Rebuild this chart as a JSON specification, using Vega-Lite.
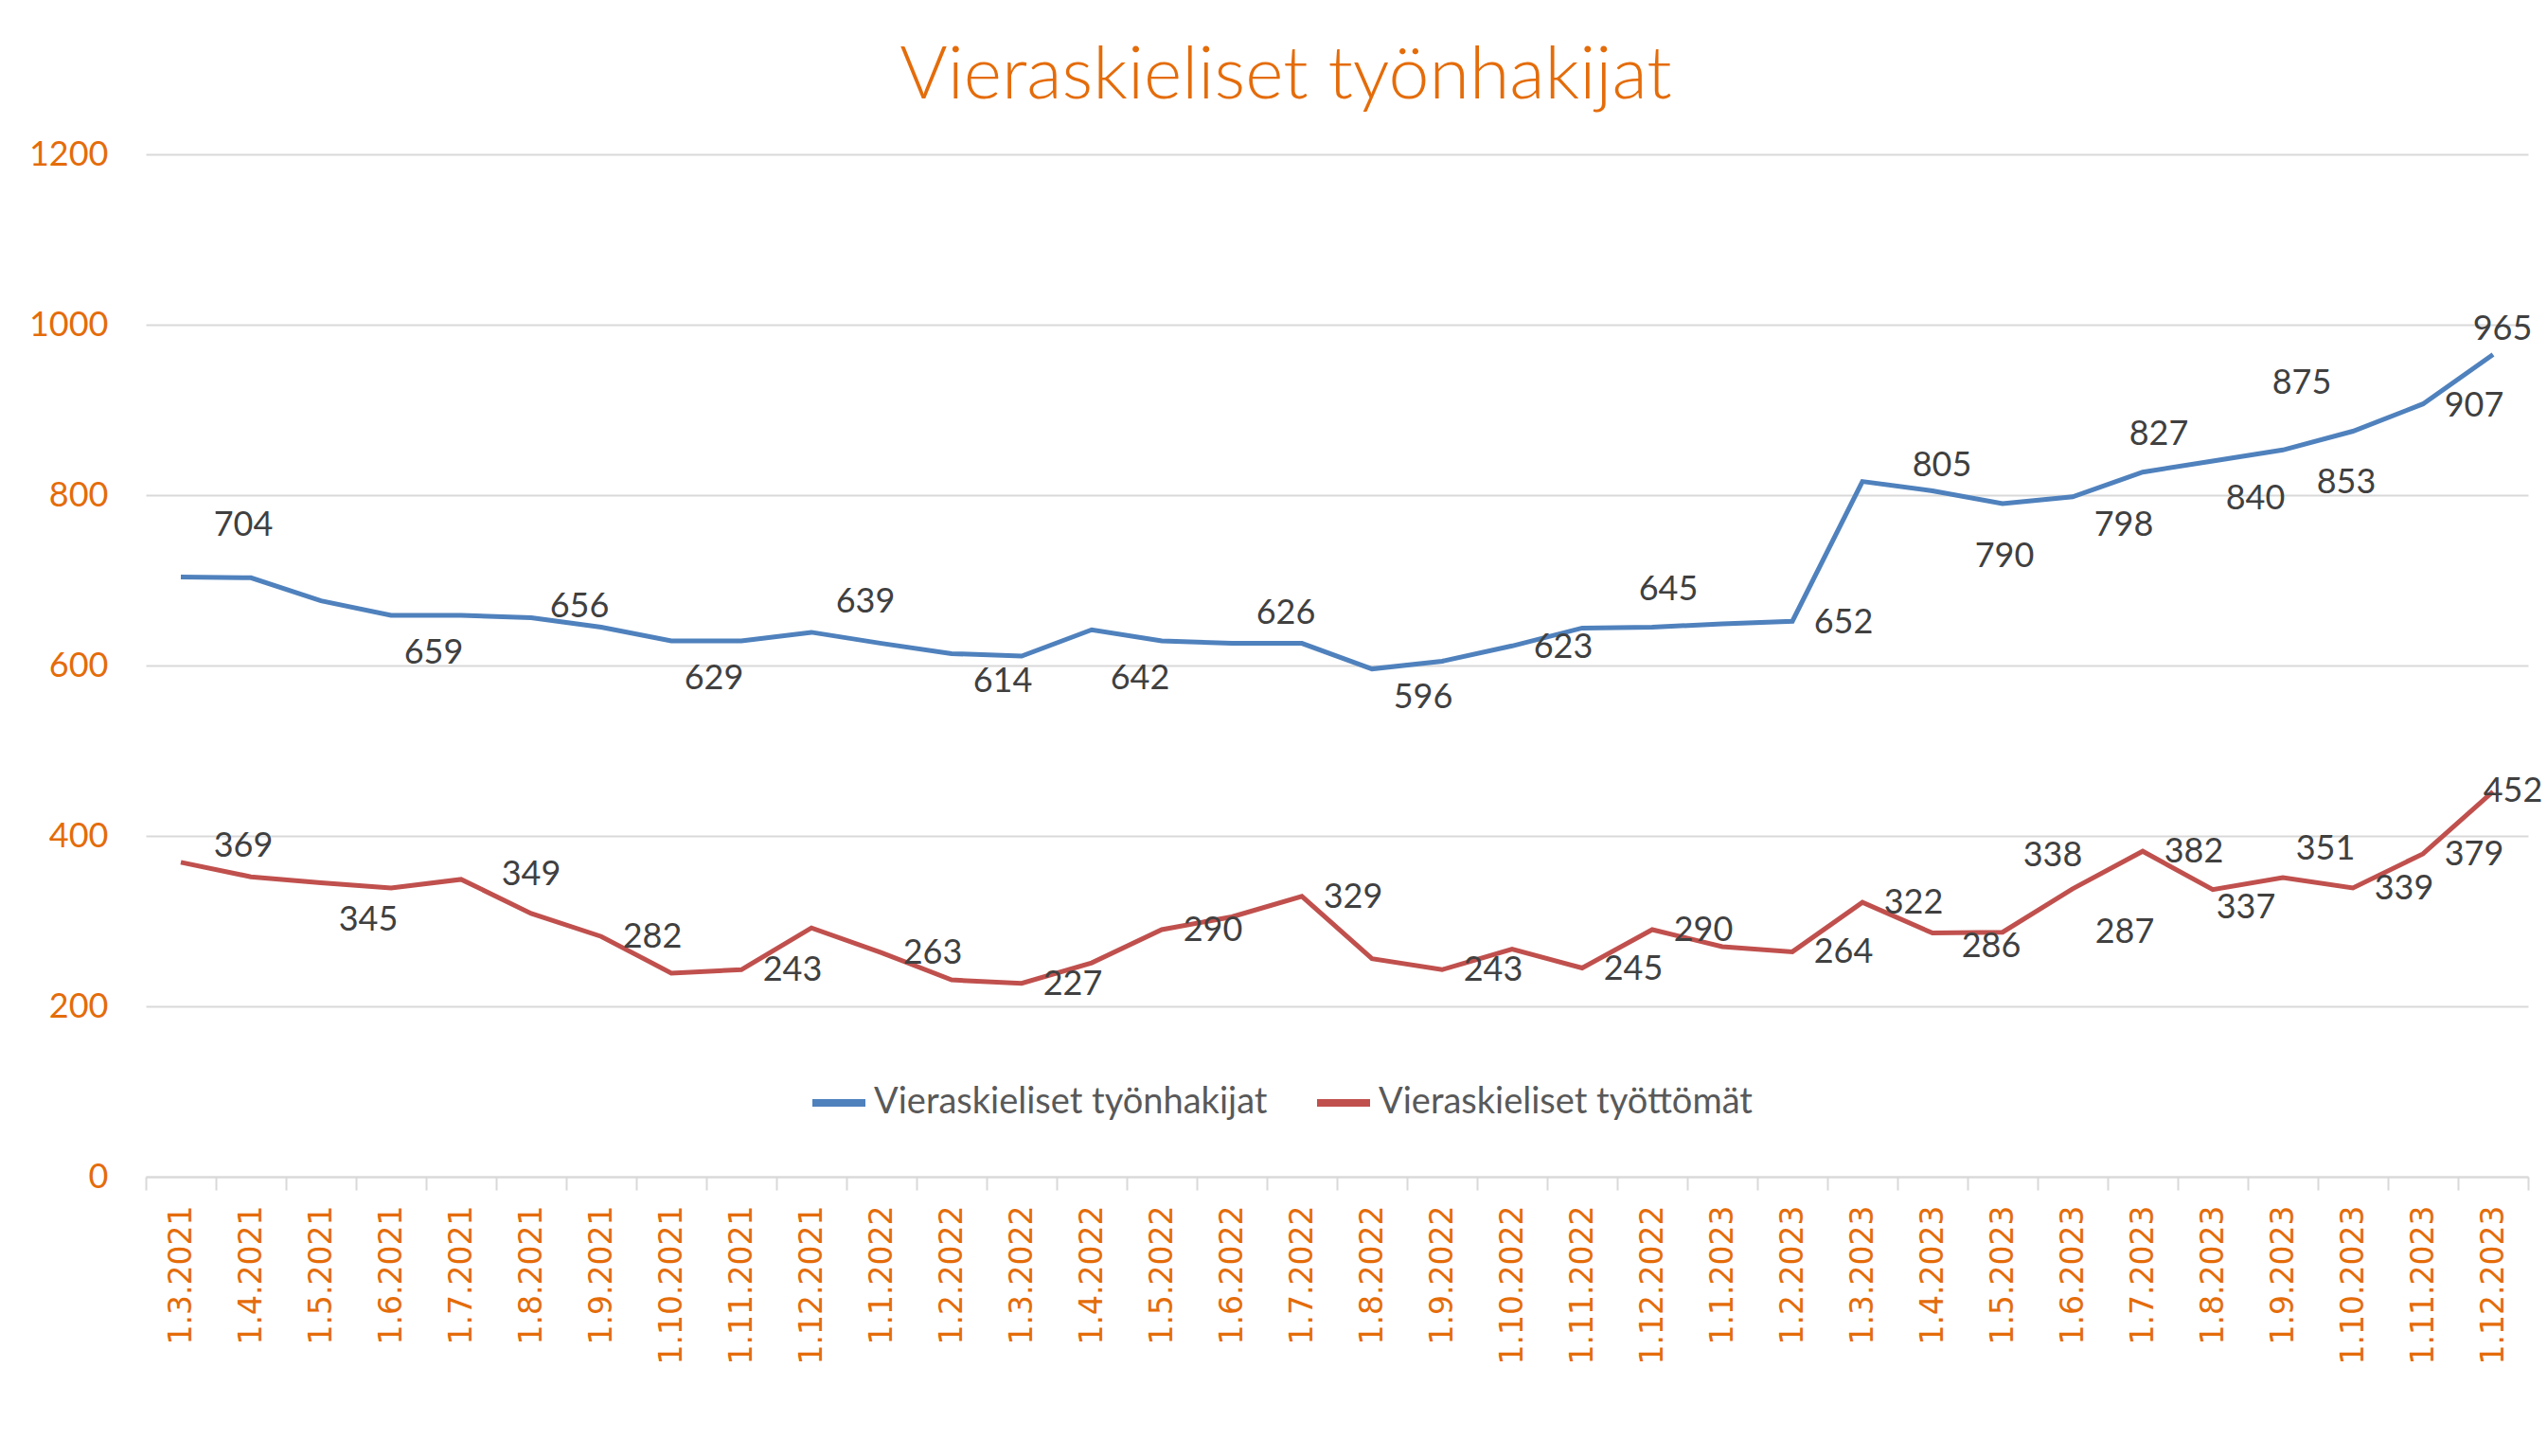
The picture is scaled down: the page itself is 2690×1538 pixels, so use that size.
{
"$schema":"https://vega.github.io/schema/vega-lite/v6.json",
"width":2516,"height":1080,
"autosize":{"type":"none"},
"padding":{"left":154,"top":163,"right":20,"bottom":295},
"background":"white",
"title":{"text":"Vieraskieliset työnhakijat","font":"Lato","fontSize":77,"fontWeight":300,"color":"#E46C0A","anchor":"middle","frame":"bounds","offset":25},
"data":{"values":[
{"kk":"1.3.2021","Vieraskieliset työnhakijat":704,"Vieraskieliset työttömät":369},
{"kk":"1.4.2021","Vieraskieliset työnhakijat":703,"Vieraskieliset työttömät":352},
{"kk":"1.5.2021","Vieraskieliset työnhakijat":676,"Vieraskieliset työttömät":345},
{"kk":"1.6.2021","Vieraskieliset työnhakijat":659,"Vieraskieliset työttömät":339},
{"kk":"1.7.2021","Vieraskieliset työnhakijat":659,"Vieraskieliset työttömät":349},
{"kk":"1.8.2021","Vieraskieliset työnhakijat":656,"Vieraskieliset työttömät":309},
{"kk":"1.9.2021","Vieraskieliset työnhakijat":645,"Vieraskieliset työttömät":282},
{"kk":"1.10.2021","Vieraskieliset työnhakijat":629,"Vieraskieliset työttömät":239},
{"kk":"1.11.2021","Vieraskieliset työnhakijat":629,"Vieraskieliset työttömät":243},
{"kk":"1.12.2021","Vieraskieliset työnhakijat":639,"Vieraskieliset työttömät":292},
{"kk":"1.1.2022","Vieraskieliset työnhakijat":626,"Vieraskieliset työttömät":263},
{"kk":"1.2.2022","Vieraskieliset työnhakijat":614,"Vieraskieliset työttömät":231},
{"kk":"1.3.2022","Vieraskieliset työnhakijat":611,"Vieraskieliset työttömät":227},
{"kk":"1.4.2022","Vieraskieliset työnhakijat":642,"Vieraskieliset työttömät":251},
{"kk":"1.5.2022","Vieraskieliset työnhakijat":629,"Vieraskieliset työttömät":290},
{"kk":"1.6.2022","Vieraskieliset työnhakijat":626,"Vieraskieliset työttömät":305},
{"kk":"1.7.2022","Vieraskieliset työnhakijat":626,"Vieraskieliset työttömät":329},
{"kk":"1.8.2022","Vieraskieliset työnhakijat":596,"Vieraskieliset työttömät":256},
{"kk":"1.9.2022","Vieraskieliset työnhakijat":605,"Vieraskieliset työttömät":243},
{"kk":"1.10.2022","Vieraskieliset työnhakijat":623,"Vieraskieliset työttömät":267},
{"kk":"1.11.2022","Vieraskieliset työnhakijat":644,"Vieraskieliset työttömät":245},
{"kk":"1.12.2022","Vieraskieliset työnhakijat":645,"Vieraskieliset työttömät":290},
{"kk":"1.1.2023","Vieraskieliset työnhakijat":649,"Vieraskieliset työttömät":270},
{"kk":"1.2.2023","Vieraskieliset työnhakijat":652,"Vieraskieliset työttömät":264},
{"kk":"1.3.2023","Vieraskieliset työnhakijat":816,"Vieraskieliset työttömät":322},
{"kk":"1.4.2023","Vieraskieliset työnhakijat":805,"Vieraskieliset työttömät":286},
{"kk":"1.5.2023","Vieraskieliset työnhakijat":790,"Vieraskieliset työttömät":287},
{"kk":"1.6.2023","Vieraskieliset työnhakijat":798,"Vieraskieliset työttömät":338},
{"kk":"1.7.2023","Vieraskieliset työnhakijat":827,"Vieraskieliset työttömät":382},
{"kk":"1.8.2023","Vieraskieliset työnhakijat":840,"Vieraskieliset työttömät":337},
{"kk":"1.9.2023","Vieraskieliset työnhakijat":853,"Vieraskieliset työttömät":351},
{"kk":"1.10.2023","Vieraskieliset työnhakijat":875,"Vieraskieliset työttömät":339},
{"kk":"1.11.2023","Vieraskieliset työnhakijat":907,"Vieraskieliset työttömät":379},
{"kk":"1.12.2023","Vieraskieliset työnhakijat":965,"Vieraskieliset työttömät":452}
]},
"encoding":{
"x":{"field":"kk","type":"ordinal","bandPosition":0.5,"sort":null,
"scale":{"type":"band","paddingInner":0,"paddingOuter":0,"domain":["1.3.2021","1.4.2021","1.5.2021","1.6.2021","1.7.2021","1.8.2021","1.9.2021","1.10.2021","1.11.2021","1.12.2021","1.1.2022","1.2.2022","1.3.2022","1.4.2022","1.5.2022","1.6.2022","1.7.2022","1.8.2022","1.9.2022","1.10.2022","1.11.2022","1.12.2022","1.1.2023","1.2.2023","1.3.2023","1.4.2023","1.5.2023","1.6.2023","1.7.2023","1.8.2023","1.9.2023","1.10.2023","1.11.2023","1.12.2023"]},
"axis":{"title":null,"labelAngle":270,"labelFont":"DejaVu Sans","labelFontSize":33,"labelColor":"#E46C0A","tickBand":"extent","tickSize":14,"tickColor":"#d9d9d9","tickWidth":2,"domainColor":"#d9d9d9","domainWidth":2,"labelPadding":16,"grid":false,"labelOverlap":false}}
},
"layer":[
{"transform":[{"fold":["Vieraskieliset työnhakijat","Vieraskieliset työttömät"],"as":["sarja","arvo"]}],
"mark":{"type":"line","strokeWidth":5},
"encoding":{
"y":{"field":"arvo","type":"quantitative","scale":{"domain":[0,1200],"nice":false},"axis":{"title":null,"format":"d"}},
"color":{"field":"sarja","type":"nominal","scale":{"domain":["Vieraskieliset työnhakijat","Vieraskieliset työttömät"],"range":["#4F81BD","#C0504D"]},
"legend":{"orient":"none","legendX":700,"legendY":970,"direction":"horizontal","title":null,"symbolType":"stroke","symbolSize":3136,"symbolStrokeWidth":8,"labelFont":"Lato","labelFontSize":38,"labelColor":"#595959","labelOffset":5,"columnPadding":36,"padding":0,"labelLimit":0}}
}},
{"transform":[{"filter":{"field":"kk","oneOf":["1.3.2021"]}}],"mark":{"type":"text","dx":66,"dy":-54},"encoding":{"y":{"field":"Vieraskieliset työnhakijat","type":"quantitative","axis":{"title":null,"format":"d"},"scale":{"domain":[0,1200],"nice":false}},"text":{"field":"Vieraskieliset työnhakijat","type":"quantitative"}}},
{"transform":[{"filter":{"field":"kk","oneOf":["1.6.2021","1.10.2021","1.8.2023"]}}],"mark":{"type":"text","dx":45,"dy":40},"encoding":{"y":{"field":"Vieraskieliset työnhakijat","type":"quantitative","axis":{"title":null,"format":"d"},"scale":{"domain":[0,1200],"nice":false}},"text":{"field":"Vieraskieliset työnhakijat","type":"quantitative"}}},
{"transform":[{"filter":{"field":"kk","oneOf":["1.8.2021"]}}],"mark":{"type":"text","dx":51,"dy":-12},"encoding":{"y":{"field":"Vieraskieliset työnhakijat","type":"quantitative","axis":{"title":null,"format":"d"},"scale":{"domain":[0,1200],"nice":false}},"text":{"field":"Vieraskieliset työnhakijat","type":"quantitative"}}},
{"transform":[{"filter":{"field":"kk","oneOf":["1.12.2021","1.6.2022"]}}],"mark":{"type":"text","dx":57,"dy":-32},"encoding":{"y":{"field":"Vieraskieliset työnhakijat","type":"quantitative","axis":{"title":null,"format":"d"},"scale":{"domain":[0,1200],"nice":false}},"text":{"field":"Vieraskieliset työnhakijat","type":"quantitative"}}},
{"transform":[{"filter":{"field":"kk","oneOf":["1.2.2022","1.8.2022","1.6.2023"]}}],"mark":{"type":"text","dx":54,"dy":30},"encoding":{"y":{"field":"Vieraskieliset työnhakijat","type":"quantitative","axis":{"title":null,"format":"d"},"scale":{"domain":[0,1200],"nice":false}},"text":{"field":"Vieraskieliset työnhakijat","type":"quantitative"}}},
{"transform":[{"filter":{"field":"kk","oneOf":["1.4.2022"]}}],"mark":{"type":"text","dx":51,"dy":52},"encoding":{"y":{"field":"Vieraskieliset työnhakijat","type":"quantitative","axis":{"title":null,"format":"d"},"scale":{"domain":[0,1200],"nice":false}},"text":{"field":"Vieraskieliset työnhakijat","type":"quantitative"}}},
{"transform":[{"filter":{"field":"kk","oneOf":["1.10.2022","1.2.2023","1.11.2023"]}}],"mark":{"type":"text","dx":54,"dy":2},"encoding":{"y":{"field":"Vieraskieliset työnhakijat","type":"quantitative","axis":{"title":null,"format":"d"},"scale":{"domain":[0,1200],"nice":false}},"text":{"field":"Vieraskieliset työnhakijat","type":"quantitative"}}},
{"transform":[{"filter":{"field":"kk","oneOf":["1.12.2022","1.7.2023"]}}],"mark":{"type":"text","dx":17,"dy":-40},"encoding":{"y":{"field":"Vieraskieliset työnhakijat","type":"quantitative","axis":{"title":null,"format":"d"},"scale":{"domain":[0,1200],"nice":false}},"text":{"field":"Vieraskieliset työnhakijat","type":"quantitative"}}},
{"transform":[{"filter":{"field":"kk","oneOf":["1.4.2023","1.12.2023"]}}],"mark":{"type":"text","dx":10,"dy":-27},"encoding":{"y":{"field":"Vieraskieliset työnhakijat","type":"quantitative","axis":{"title":null,"format":"d"},"scale":{"domain":[0,1200],"nice":false}},"text":{"field":"Vieraskieliset työnhakijat","type":"quantitative"}}},
{"transform":[{"filter":{"field":"kk","oneOf":["1.5.2023"]}}],"mark":{"type":"text","dx":2,"dy":56},"encoding":{"y":{"field":"Vieraskieliset työnhakijat","type":"quantitative","axis":{"title":null,"format":"d"},"scale":{"domain":[0,1200],"nice":false}},"text":{"field":"Vieraskieliset työnhakijat","type":"quantitative"}}},
{"transform":[{"filter":{"field":"kk","oneOf":["1.9.2023"]}}],"mark":{"type":"text","dx":67,"dy":35},"encoding":{"y":{"field":"Vieraskieliset työnhakijat","type":"quantitative","axis":{"title":null,"format":"d"},"scale":{"domain":[0,1200],"nice":false}},"text":{"field":"Vieraskieliset työnhakijat","type":"quantitative"}}},
{"transform":[{"filter":{"field":"kk","oneOf":["1.10.2023"]}}],"mark":{"type":"text","dx":-54,"dy":-51},"encoding":{"y":{"field":"Vieraskieliset työnhakijat","type":"quantitative","axis":{"title":null,"format":"d"},"scale":{"domain":[0,1200],"nice":false}},"text":{"field":"Vieraskieliset työnhakijat","type":"quantitative"}}},
{"transform":[{"filter":{"field":"kk","oneOf":["1.3.2021"]}}],"mark":{"type":"text","dx":66,"dy":-17},"encoding":{"y":{"field":"Vieraskieliset työttömät","type":"quantitative","axis":{"title":null,"format":"d"},"scale":{"domain":[0,1200],"nice":false}},"text":{"field":"Vieraskieliset työttömät","type":"quantitative"}}},
{"transform":[{"filter":{"field":"kk","oneOf":["1.5.2021"]}}],"mark":{"type":"text","dx":50,"dy":39},"encoding":{"y":{"field":"Vieraskieliset työttömät","type":"quantitative","axis":{"title":null,"format":"d"},"scale":{"domain":[0,1200],"nice":false}},"text":{"field":"Vieraskieliset työttömät","type":"quantitative"}}},
{"transform":[{"filter":{"field":"kk","oneOf":["1.7.2021"]}}],"mark":{"type":"text","dx":74,"dy":-5},"encoding":{"y":{"field":"Vieraskieliset työttömät","type":"quantitative","axis":{"title":null,"format":"d"},"scale":{"domain":[0,1200],"nice":false}},"text":{"field":"Vieraskieliset työttömät","type":"quantitative"}}},
{"transform":[{"filter":{"field":"kk","oneOf":["1.9.2021","1.11.2021","1.1.2022","1.3.2022","1.5.2022","1.7.2022","1.9.2022","1.11.2022","1.12.2022","1.2.2023","1.3.2023","1.7.2023","1.10.2023","1.11.2023"]}}],"mark":{"type":"text","dx":54,"dy":1},"encoding":{"y":{"field":"Vieraskieliset työttömät","type":"quantitative","axis":{"title":null,"format":"d"},"scale":{"domain":[0,1200],"nice":false}},"text":{"field":"Vieraskieliset työttömät","type":"quantitative"}}},
{"transform":[{"filter":{"field":"kk","oneOf":["1.4.2023"]}}],"mark":{"type":"text","dx":62,"dy":14},"encoding":{"y":{"field":"Vieraskieliset työttömät","type":"quantitative","axis":{"title":null,"format":"d"},"scale":{"domain":[0,1200],"nice":false}},"text":{"field":"Vieraskieliset työttömät","type":"quantitative"}}},
{"transform":[{"filter":{"field":"kk","oneOf":["1.5.2023"]}}],"mark":{"type":"text","dx":129,"dy":0},"encoding":{"y":{"field":"Vieraskieliset työttömät","type":"quantitative","axis":{"title":null,"format":"d"},"scale":{"domain":[0,1200],"nice":false}},"text":{"field":"Vieraskieliset työttömät","type":"quantitative"}}},
{"transform":[{"filter":{"field":"kk","oneOf":["1.6.2023"]}}],"mark":{"type":"text","dx":-21,"dy":-35},"encoding":{"y":{"field":"Vieraskieliset työttömät","type":"quantitative","axis":{"title":null,"format":"d"},"scale":{"domain":[0,1200],"nice":false}},"text":{"field":"Vieraskieliset työttömät","type":"quantitative"}}},
{"transform":[{"filter":{"field":"kk","oneOf":["1.8.2023"]}}],"mark":{"type":"text","dx":35,"dy":19},"encoding":{"y":{"field":"Vieraskieliset työttömät","type":"quantitative","axis":{"title":null,"format":"d"},"scale":{"domain":[0,1200],"nice":false}},"text":{"field":"Vieraskieliset työttömät","type":"quantitative"}}},
{"transform":[{"filter":{"field":"kk","oneOf":["1.9.2023"]}}],"mark":{"type":"text","dx":45,"dy":-30},"encoding":{"y":{"field":"Vieraskieliset työttömät","type":"quantitative","axis":{"title":null,"format":"d"},"scale":{"domain":[0,1200],"nice":false}},"text":{"field":"Vieraskieliset työttömät","type":"quantitative"}}},
{"transform":[{"filter":{"field":"kk","oneOf":["1.12.2023"]}}],"mark":{"type":"text","dx":21,"dy":0},"encoding":{"y":{"field":"Vieraskieliset työttömät","type":"quantitative","axis":{"title":null,"format":"d"},"scale":{"domain":[0,1200],"nice":false}},"text":{"field":"Vieraskieliset työttömät","type":"quantitative"}}}
],
"config":{"view":{"stroke":null},
"axisY":{"tickCount":7,"format":"d","domain":false,"ticks":false,"labelFont":"Lato","labelFontSize":36,"labelColor":"#E46C0A","labelPadding":40,"grid":true,"gridColor":"#d9d9d9","gridWidth":2,"labelOverlap":false},
"text":{"font":"Lato","fontSize":36,"color":"#404040","align":"center","baseline":"middle"}}
}
